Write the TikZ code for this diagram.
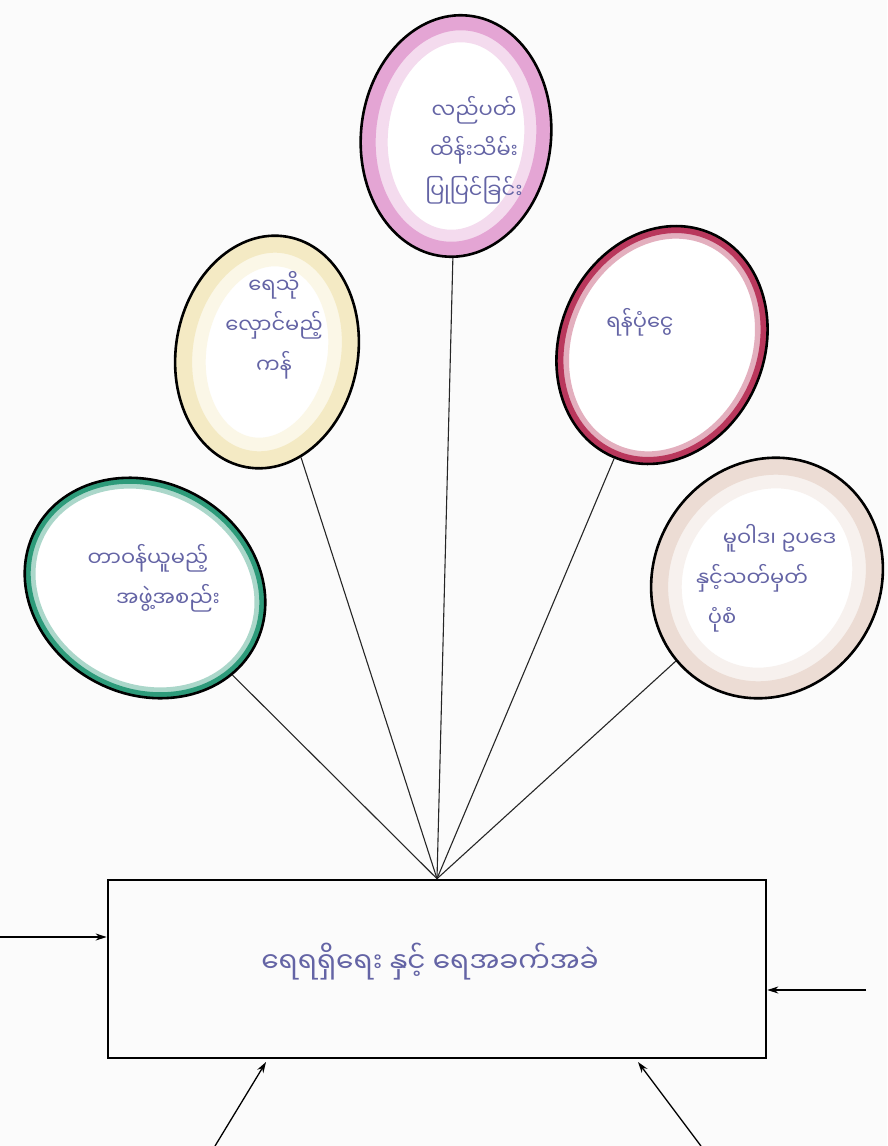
\documentclass[tikz,border=0pt]{standalone}
\usepackage{fontspec}
\newfontfamily\mya[Script=Myanmar]{Noto Sans Myanmar UI}
\usetikzlibrary{shapes.geometric,arrows.meta}
\definecolor{ink}{RGB}{100,100,165}
\definecolor{paper}{RGB}{251,251,251}
\definecolor{cpink}{RGB}{228,165,212}
\definecolor{cyel}{RGB}{244,234,196}
\definecolor{cred}{RGB}{185,55,92}
\definecolor{cgreen}{RGB}{45,155,122}
\definecolor{cbeige}{RGB}{236,220,212}
\begin{document}
\begin{tikzpicture}[x=1pt,y=1pt,
  bal/.style n args={4}{ellipse, draw=black, line width=2.6pt, fill=white, inner sep=0pt,
     minimum width=#1, minimum height=#2,
     path picture={
       \draw[#3!40, line width=1.8*#4] (0,0) ellipse [x radius=#1/2, y radius=#2/2];
       \draw[#3, line width=#4] (0,0) ellipse [x radius=#1/2, y radius=#2/2];}},
  lbl/.style={font=\mya\fontsize{21}{40}\selectfont, text=ink, align=center},
  boxtxt/.style={font=\mya\fontsize{28}{34}\selectfont, text=ink},
  conn/.style={line width=1.1pt, black!85},
  arr/.style={line width=1.3pt, black, -{Stealth[length=11pt,width=7pt]}}]
\useasboundingbox (0,0) rectangle (887,-1146);
\fill[paper] (0,0) rectangle (887,-1146);

% balloons
\node[bal={190}{242}{cpink}{30}, rotate=-6] (pink) at (456,-136) {};
\node[bal={182}{234}{cyel}{34}, rotate=-10] (yel) at (267,-352) {};
\node[bal={204}{244}{cred}{14}, rotate=-24] (red) at (662,-345) {};
\node[bal={248}{212}{cgreen}{12}, rotate=-28] (green) at (145,-588) {};
\node[bal={226}{246}{cbeige}{34}, rotate=-32] (beige) at (767,-578) {};

% labels
\node[lbl] (tpink) at (474,-150) {လည်ပတ်\\ထိန်းသိမ်း\\ပြုပြင်ခြင်း};
\node[lbl] (tyel) at (274,-325) {ရေသို\\လှောင်မည့်\\ကန်};
\node[lbl] (tred) at (640,-322) {ရန်ပုံငွေ};
\node[lbl] (tgreen) at (148,-578) {တာဝန်ယူမည့်\\\hspace*{40pt}အဖွဲ့အစည်း};
\node[lbl] (tbeige) at (752,-578) {\hspace*{55pt}မူဝါဒ၊ ဥပဒေ\\နှင့်သတ်မှတ်\\ပုံစံ\hspace*{60pt}};

% central box
\node[draw=black, line width=2.6pt, minimum width=658, minimum height=178, inner sep=0pt] (box) at (437,-969) {};
\node[boxtxt] (tbox) at (430,-962) {ရေရရှိရေး နှင့် ရေအခက်အခဲ};

% connectors
\draw[conn] (pink) -- (box.north);
\draw[conn] (yel) -- (box.north);
\draw[conn] (red) -- (box.north);
\draw[conn] (green) -- (box.north);
\draw[conn] (beige) -- (box.north);

% incoming arrows
\coordinate (inl) at (0,-937);
\coordinate (inr) at (866,-990);
\coordinate (inbl) at (215,-1146);
\coordinate (inbr) at (701,-1146);
\coordinate (tipbl) at (266,-1062);
\coordinate (tipbr) at (638,-1062);
\draw[arr] (inl) -- (inl -| box.west);
\draw[arr] (inr) -- (inr -| box.east);
\draw[arr] (inbl) -- (tipbl);
\draw[arr] (inbr) -- (tipbr);
\end{tikzpicture}
\end{document}
